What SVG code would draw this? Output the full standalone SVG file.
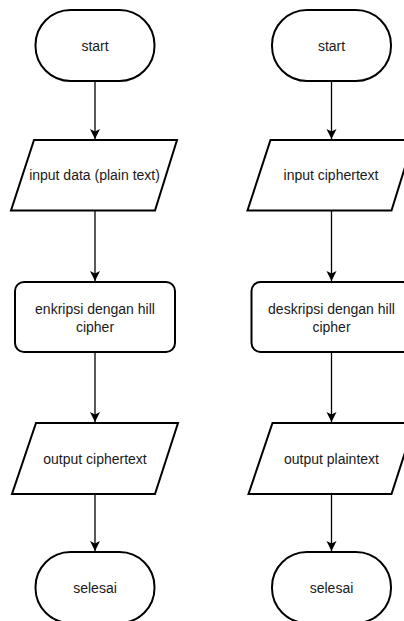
<svg xmlns="http://www.w3.org/2000/svg" width="404" height="621" viewBox="0 0 404 621">
<style>
.shape{fill:#fff;stroke:#000;stroke-width:2}
.edge{fill:none;stroke:#000;stroke-width:1.3}
text{font-family:"Liberation Sans",Arial,sans-serif;font-size:14px;fill:#1a1a1a;text-anchor:middle;dominant-baseline:central}
</style>
<defs>
<marker id="arr" markerUnits="userSpaceOnUse" markerWidth="12" markerHeight="12" viewBox="0 0 12 12" refX="10" refY="6" orient="auto">
<path d="M0,1 L10,6 L0,11 L2.5,6 Z" fill="#000"/>
</marker>
</defs>
<rect width="404" height="621" fill="#fff"/>
<g id="connectors">
<line class="edge" x1="95" y1="81" x2="95" y2="139" marker-end="url(#arr)"/>
<line class="edge" x1="95" y1="211" x2="95" y2="281" marker-end="url(#arr)"/>
<line class="edge" x1="95" y1="352" x2="95" y2="422" marker-end="url(#arr)"/>
<line class="edge" x1="95" y1="494" x2="95" y2="551" marker-end="url(#arr)"/>
<line class="edge" x1="331.5" y1="81" x2="331.5" y2="139" marker-end="url(#arr)"/>
<line class="edge" x1="331.5" y1="211" x2="331.5" y2="281" marker-end="url(#arr)"/>
<line class="edge" x1="331.5" y1="352" x2="331.5" y2="422" marker-end="url(#arr)"/>
<line class="edge" x1="331.5" y1="494" x2="331.5" y2="551" marker-end="url(#arr)"/>
</g>
<g id="start1"><rect class="shape" x="35.5" y="10" width="119" height="71" rx="35" ry="35"/><text x="95" y="45.5">start</text></g>
<g id="input1"><polygon class="shape" points="34,140 177,140 155,210.5 11,210.5"/><text x="94.5" y="175">input data (plain text)</text></g>
<g id="proc1"><rect class="shape" x="15" y="282" width="160" height="70" rx="9" ry="9"/><text x="95" y="309">enkripsi dengan hill</text><text x="95" y="326.5">cipher</text></g>
<g id="output1"><polygon class="shape" points="36,423 178,423 155,494 12,494"/><text x="95" y="458.5">output ciphertext</text></g>
<g id="end1"><rect class="shape" x="35.5" y="552" width="119" height="71" rx="35" ry="35"/><text x="95" y="588">selesai</text></g>
<g id="start2"><rect class="shape" x="272" y="10" width="119" height="71" rx="35" ry="35"/><text x="331.5" y="45.5">start</text></g>
<g id="input2"><polygon class="shape" points="270.5,140 413.5,140 391.5,210.5 247.5,210.5"/><text x="331" y="175">input ciphertext</text></g>
<g id="proc2"><rect class="shape" x="251.5" y="282" width="160" height="70" rx="9" ry="9"/><text x="331.5" y="309">deskripsi dengan hill</text><text x="331.5" y="326.5">cipher</text></g>
<g id="output2"><polygon class="shape" points="272.5,423 414.5,423 391.5,494 248.5,494"/><text x="331.5" y="458.5">output plaintext</text></g>
<g id="end2"><rect class="shape" x="272" y="552" width="119" height="71" rx="35" ry="35"/><text x="331.5" y="588">selesai</text></g>
</svg>
